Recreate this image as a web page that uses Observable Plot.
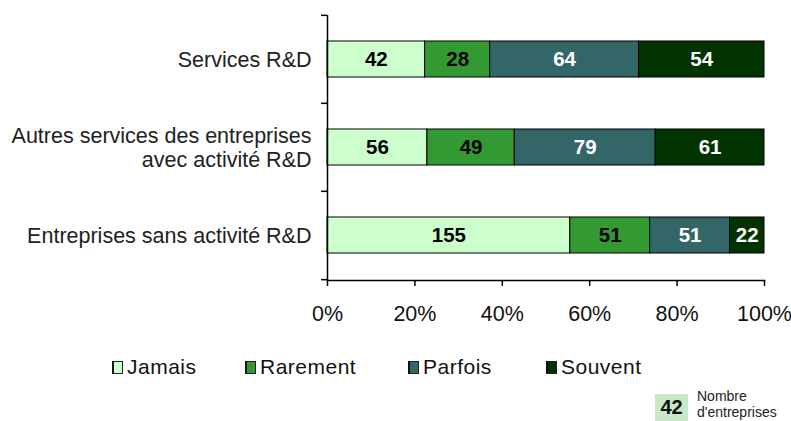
<!DOCTYPE html>
<html><head><meta charset="utf-8">
<script src="https://cdn.jsdelivr.net/npm/d3@7"></script>
<script src="https://cdn.jsdelivr.net/npm/@observablehq/plot@0.6"></script>
<style>
body{margin:0;background:#fff;font-family:"Liberation Sans",Arial,sans-serif;}
#wrap{position:relative;width:791px;height:421px;overflow:hidden;}
#chart svg{display:block;}
.leg{position:absolute;top:356px;height:22px;display:flex;align-items:center;font-size:21px;letter-spacing:0.5px;color:#111;}
.sw{width:11px;height:13px;border:1px solid #222;border-left:2px solid #111;margin-right:4px;box-sizing:border-box;}
#note{position:absolute;left:655px;top:394px;}
#noteBox{position:absolute;left:0;top:0;width:33px;height:27px;background:#c8e8c8;font-weight:bold;font-size:20px;display:flex;align-items:center;justify-content:center;color:#111;}
#noteTxt{position:absolute;left:42px;top:-6px;font-size:14px;line-height:16px;color:#222;white-space:nowrap;}
</style></head><body>
<div id="wrap"><div id="chart"></div></div>
<script>
const categories = ["Services R&D", "Autres services des entreprises\navec activité R&D", "Entreprises sans activité R&D"];
const seriesNames = ["Jamais", "Rarement", "Parfois", "Souvent"];
const jamais = [42, 56, 155];
const rarement = [28, 49, 51];
const parfois = [64, 79, 51];
const souvent = [54, 61, 22];
const xTicks = [0, 0.2, 0.4, 0.6, 0.8, 1];
const noteValue = 42;
const noteLines = ["Nombre", "d'entreprises"];

const colors = ["#ccffcc", "#339933", "#336666", "#003300"];
const textColors = ["#000", "#000", "#fff", "#fff"];

const valuesBySeries = [jamais, rarement, parfois, souvent];
const rows = [];
seriesNames.forEach((s, si) => categories.forEach((c, ci) => rows.push({cat: c, series: s, value: valuesBySeries[si][ci], tc: textColors[si]})));

const W = 791, H = 340, mT = 15, mB = 60;
const step = (H - mT - mB) / categories.length;

const chart = Plot.plot({
  width: W, height: H,
  marginLeft: 327, marginRight: 27, marginTop: mT, marginBottom: mB,
  style: {fontFamily: "'Liberation Sans', Arial, sans-serif", fontSize: "21px", color: "#111", background: "#fff"},
  x: {domain: [0, 1], label: null, axis: null},
  y: {domain: categories, paddingInner: 0.59, paddingOuter: 0.295, label: null, axis: null},
  color: {domain: seriesNames, range: colors},
  marks: [
    Plot.barX(rows, Plot.stackX({x: "value", y: "cat", z: "series", fill: "series", offset: "normalize", stroke: "#000", strokeWidth: 1})),
    Plot.text(rows, Plot.stackX({x: "value", y: "cat", z: "series", offset: "normalize", text: "value", fill: "tc", fontWeight: "bold", fontSize: 20.5})),
    Plot.ruleX([0], {stroke: "#000", strokeWidth: 1.5}),
    Plot.frame({anchor: "bottom", stroke: "#000", strokeWidth: 1.5}),
    Plot.axisX({ticks: xTicks, tickFormat: d3.format(".0%"), tickSize: 6, tickPadding: 19, fontSize: 21.5, label: null, stroke: "#000", strokeWidth: 1.5, fill: "#111"}),
    Plot.axisY({tickSize: 0, tickPadding: 16, fontSize: 21.5, lineHeight: 1.08, label: null, fill: "#222"}),
    Plot.axisY({tickSize: 6, tickFormat: () => "", label: null, dy: -step / 2, stroke: "#000", strokeWidth: 1.5}),
    Plot.axisY({ticks: [categories[categories.length - 1]], tickSize: 6, tickFormat: () => "", label: null, dy: step / 2, stroke: "#000", strokeWidth: 1.5})
  ]
});
document.getElementById("chart").appendChild(chart);

const wrap = document.getElementById("wrap");
const legLeft = [112, 245, 408, 546];
seriesNames.forEach((s, i) => {
  const d = document.createElement("div");
  d.className = "leg";
  d.style.left = legLeft[i] + "px";
  const sw = document.createElement("span");
  sw.className = "sw";
  sw.style.background = colors[i];
  d.appendChild(sw);
  const t = document.createElement("span");
  t.textContent = s;
  d.appendChild(t);
  wrap.appendChild(d);
});
const note = document.createElement("div");
note.id = "note";
note.innerHTML = `<div id="noteBox">${noteValue}</div><div id="noteTxt">${noteLines.join("<br>")}</div>`;
wrap.appendChild(note);
</script>
</body></html>
